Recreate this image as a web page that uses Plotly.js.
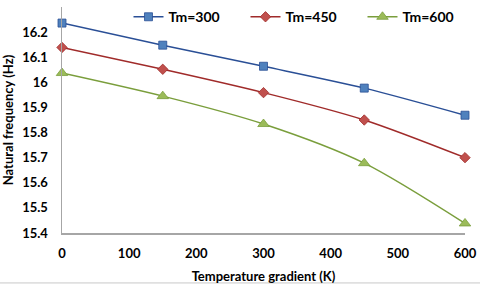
<!DOCTYPE html>
<html><head><meta charset="utf-8">
<script src="https://cdn.plot.ly/plotly-3.0.1.min.js"></script>
<style>html,body{margin:0;padding:0;background:#fff}#c{width:480px;height:286px}</style>
</head><body><div id="c"></div>
<script>
const gradient = [0, 150, 300, 450, 600];
const tm300 = [16.236, 16.148, 16.064, 15.977, 15.869];
const tm450 = [16.139, 16.052, 15.959, 15.850, 15.700];
const tm600 = [16.037, 15.945, 15.834, 15.678, 15.438];
const names = ['Tm=300', 'Tm=450', 'Tm=600'];
const lineColors = ['#2A4F96', '#A02B2A', '#7A9E3C'];
const fillColors = ['#4F81BD', '#C0504D', '#9BBB59'];
const symbols = ['square', 'diamond', 'triangle-up'];
const sizes = [8, 8, 10];
const series = [tm300, tm450, tm600];
const font = 'Lato, "Open Sans", sans-serif';
const traces = series.map((s, i) => ({
  x: gradient, y: s, name: names[i], type: 'scatter', mode: 'lines+markers',
  line: {color: lineColors[i], width: 1.5, shape: 'spline', smoothing: 0.8},
  marker: {symbol: symbols[i], size: sizes[i], color: fillColors[i], line: {color: lineColors[i], width: 0.8}},
  cliponaxis: false
}));
const layout = {
  width: 480, height: 286,
  margin: {l: 62, r: 15, t: 7, b: 53, autoexpand: false},
  paper_bgcolor: '#fff', plot_bgcolor: '#fff',
  font: {family: font, color: '#000', size: 13, weight: 'bold'},
  showlegend: true,
  legend: {orientation: 'h', x: 0.165, xanchor: 'left', y: 0.955, yanchor: 'middle',
    font: {family: font, size: 14, weight: 'bold', color: '#000'}, bgcolor: 'rgba(0,0,0,0)',
    itemwidth: 30, entrywidth: 72, entrywidthmode: 'pixels', tracegroupgap: 0},
  xaxis: {range: [0, 600], tickvals: [0, 100, 200, 300, 400, 500, 600], showgrid: false, zeroline: false,
    showline: true, linecolor: '#A6A6A6', linewidth: 1.5, ticks: '', ticklen: 0, ticklabelstandoff: 8,
    tickfont: {family: font, size: 13, weight: 'bold'},
    title: {text: 'Temperature gradient (K)', font: {family: font, size: 13, weight: 'bold'}, standoff: 12}},
  yaxis: {range: [15.4, 16.3], tickvals: [15.4, 15.5, 15.6, 15.7, 15.8, 15.9, 16, 16.1, 16.2, 16.3],
    ticktext: ['15.4', '15.5', '15.6', '15.7', '15.8', '15.9', '16', '16.1', '16.2', '16.3'],
    showgrid: false, zeroline: false, showline: true, linecolor: '#A6A6A6', linewidth: 1.5, ticks: '',
    ticklabelstandoff: 10,
    tickfont: {family: font, size: 13, weight: 'bold'},
    title: {text: 'Natural frequency (Hz)', font: {family: font, size: 13, weight: 'bold'}, standoff: 6}},
  shapes: [{type: 'line', xref: 'paper', yref: 'paper', x0: -0.2, x1: 1.1, y0: -0.221, y1: -0.221,
    line: {color: '#C8C8C8', width: 1}}]
};
Plotly.newPlot('c', traces, layout, {displayModeBar: false, staticPlot: true});
</script></body></html>
